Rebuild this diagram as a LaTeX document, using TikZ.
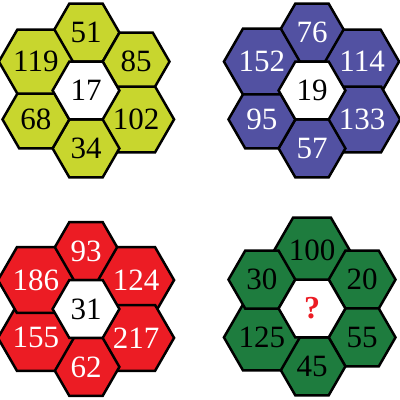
\documentclass[tikz,border=0pt]{standalone}
\usepackage{fontspec}
\setmainfont{Liberation Serif}
\usepackage{tikz}
\usetikzlibrary{shapes.geometric}
\definecolor{hexlime}{RGB}{200,214,46}
\definecolor{hexblue}{RGB}{82,81,162}
\definecolor{hexred}{RGB}{236,28,36}
\definecolor{hexgreen}{RGB}{30,124,62}
\tikzset{
  hexa/.style={regular polygon, regular polygon sides=6, minimum size=66.8pt,
    inner sep=0pt, draw=black, line width=2.5pt, line join=miter,
    font=\fontsize{31}{31}\selectfont},
  midhex/.style={hexa, fill=white, text=black},
  limehex/.style={hexa, fill=hexlime, text=black},
  bluehex/.style={hexa, fill=hexblue, text=white},
  redhex/.style={hexa, fill=hexred, text=white},
  greenhex/.style={hexa, fill=hexgreen, text=black}
}
\begin{document}
\begin{tikzpicture}[x=1pt, y=-1pt]
    \useasboundingbox (0,0) rectangle (400,400);
    % top left
    \begin{scope}[shift={(86,90.5)}]
        \node[limehex] (a1) at (0,-57.9) {51};
        \node[limehex] (a2) at (50.1,-28.9) {85};
        \node[limehex] (a3) at (50.1,28.9) {102};
        \node[limehex] (a4) at (0,57.9) {34};
        \node[limehex] (a5) at (-50.1,28.9) {68};
        \node[limehex] (a6) at (-50.1,-28.9) {119};
        \node[midhex] (a0) at (0,0) {17};
    \end{scope}
    % top right
    \begin{scope}[shift={(312,90.5)}]
        \node[bluehex] (b1) at (0,-57.9) {76};
        \node[bluehex] (b2) at (50.1,-28.9) {114};
        \node[bluehex] (b3) at (50.1,28.9) {133};
        \node[bluehex] (b4) at (0,57.9) {57};
        \node[bluehex] (b5) at (-50.1,28.9) {95};
        \node[bluehex] (b6) at (-50.1,-28.9) {152};
        \node[midhex] (b0) at (0,0) {19};
    \end{scope}
    % bottom left
    \begin{scope}[shift={(86,309)}]
        \node[redhex] (c1) at (0,-57.9) {93};
        \node[redhex] (c2) at (50.1,-28.9) {124};
        \node[redhex] (c3) at (50.1,28.9) {217};
        \node[redhex] (c4) at (0,57.9) {62};
        \node[redhex] (c5) at (-50.1,28.9) {155};
        \node[redhex] (c6) at (-50.1,-28.9) {186};
        \node[midhex] (c0) at (0,0) {31};
    \end{scope}
    % bottom right
    \begin{scope}[shift={(312,308.5)}]
        \node[greenhex] (d1) at (0,-57.9) {100};
        \node[greenhex] (d2) at (50.1,-28.9) {20};
        \node[greenhex] (d3) at (50.1,28.9) {55};
        \node[greenhex] (d4) at (0,57.9) {45};
        \node[greenhex] (d5) at (-50.1,28.9) {125};
        \node[greenhex] (d6) at (-50.1,-28.9) {30};
        \node[midhex, text=hexred, font=\fontsize{32}{32}\selectfont\bfseries] (d0) at (0,0) {?};
    \end{scope}
\end{tikzpicture}
\end{document}
